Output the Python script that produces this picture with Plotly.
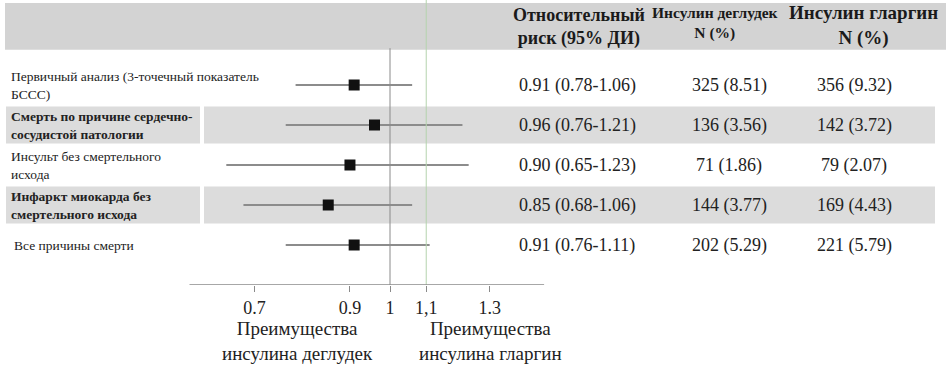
import plotly.graph_objects as go

# ---- data ----
outcomes = [
    "Первичный анализ (3-точечный показатель<br>БССС)",
    "<b>Смерть по причине сердечно-<br>сосудистой патологии</b>",
    "Инсульт без смертельного<br>исхода",
    "<b>Инфаркт миокарда без<br>смертельного исхода</b>",
    "Все причины смерти",
]
hr = [0.91, 0.96, 0.90, 0.85, 0.91]
ci_low = [0.78, 0.76, 0.65, 0.68, 0.76]
ci_high = [1.06, 1.21, 1.23, 1.06, 1.11]
n_degludec = [325, 136, 71, 144, 202]
pct_degludec = [8.51, 3.56, 1.86, 3.77, 5.29]
n_glargine = [356, 142, 79, 169, 221]
pct_glargine = [9.32, 3.72, 2.07, 4.43, 5.79]
tick_vals = [0.7, 0.9, 1, 1.1, 1.3]
tick_text = ["0.7", "0.9", "1", "1,1", "1.3"]
headers = ["Относительный<br>риск (95% ДИ)", "Инсулин деглудек<br>N (%)", "Инсулин гларгин<br>N (%)"]
favours = ["Преимущества<br>инсулина деглудек", "Преимущества<br>инсулина гларгин"]

W, H = 946, 365
FONT = "Liberation Serif, Times New Roman, serif"
rows = list(range(len(hr)))

fig = go.Figure()

# shading bands
shapes = []
shapes.append(dict(type="rect", xref="paper", yref="y", x0=5 / W, x1=1, y0=-2.05, y1=-0.88,
                   fillcolor="#d3d3d3", line_width=0, layer="below"))
for i in rows:
    if i % 2 == 1:
        shapes.append(dict(type="rect", xref="paper", yref="y", x0=6 / W, x1=200 / W,
                           y0=i - 0.46, y1=i + 0.46, fillcolor="#dcdcdc", line_width=0, layer="below"))
        shapes.append(dict(type="rect", xref="paper", yref="y", x0=204 / W, x1=935 / W,
                           y0=i - 0.46, y1=i + 0.46, fillcolor="#dcdcdc", line_width=0, layer="below"))

# reference lines
shapes.append(dict(type="line", xref="x", yref="y", x0=1.1, x1=1.1, y0=-2.125, y1=5.0,
                   line=dict(color="#b5d3ad", width=1)))
shapes.append(dict(type="line", xref="x", yref="y", x0=1, x1=1, y0=-0.92, y1=5.0,
                   line=dict(color="#8a8a8a", width=1)))
# axis line
shapes.append(dict(type="line", xref="x", yref="y", x0=0.59, x1=1.5, y0=5.0, y1=5.0,
                   line=dict(color="#8a8a8a", width=1.5)))

# CI lines
cx, cy = [], []
for i in rows:
    cx += [ci_low[i], ci_high[i], None]
    cy += [i, i, None]
fig.add_trace(go.Scatter(x=cx, y=cy, mode="lines", line=dict(color="#8c8c8c", width=2),
                         hoverinfo="skip", showlegend=False))
# point estimates
fig.add_trace(go.Scatter(x=hr, y=rows, mode="markers",
                         marker=dict(symbol="square", size=11, color="#111111"),
                         showlegend=False))

ann = []
# row labels
for i in rows:
    ann.append(dict(xref="paper", yref="y", x=9 / W if i != 4 else 12 / W, y=i, text=outcomes[i],
                    showarrow=False, xanchor="left", yanchor="middle", align="left",
                    font=dict(family=FONT, size=13.5, color="#222")))
    ann.append(dict(xref="paper", yref="y", x=577 / W, y=i,
                    text=f"{hr[i]:.2f} ({ci_low[i]:.2f}-{ci_high[i]:.2f})",
                    showarrow=False, xanchor="center", yanchor="middle",
                    font=dict(family=FONT, size=18, color="#222")))
    ann.append(dict(xref="paper", yref="y", x=729 / W, y=i,
                    text=f"{n_degludec[i]} ({pct_degludec[i]:.2f})",
                    showarrow=False, xanchor="center", yanchor="middle",
                    font=dict(family=FONT, size=18, color="#222")))
    ann.append(dict(xref="paper", yref="y", x=854 / W, y=i,
                    text=f"{n_glargine[i]} ({pct_glargine[i]:.2f})",
                    showarrow=False, xanchor="center", yanchor="middle",
                    font=dict(family=FONT, size=18, color="#222")))

# headers
hx = [579, 715, 863]
hs = [18, 15.5, 19]
hy = [-1.45, -1.55, -1.5]
for t, x, s, y in zip(headers, hx, hs, hy):
    ann.append(dict(xref="paper", yref="y", x=x / W, y=y, text=f"<b>{t}</b>",
                    showarrow=False, xanchor="center", yanchor="middle",
                    font=dict(family=FONT, size=s, color="#1a1a1a")))

# favours labels
for t, x in zip(favours, [297, 490]):
    ann.append(dict(xref="paper", yref="paper", x=x / W, y=(H - 80 - 341) / (H - 80), text=t,
                    showarrow=False, xanchor="center", yanchor="middle",
                    font=dict(family=FONT, size=19, color="#222")))

fig.update_layout(
    width=W, height=H,
    margin=dict(l=0, r=0, t=0, b=80),
    paper_bgcolor="white", plot_bgcolor="rgba(0,0,0,0)",
    shapes=shapes, annotations=ann,
    xaxis=dict(type="log", range=[-0.4457, 0.6354], showgrid=False, zeroline=False,
               showline=False, tickvals=tick_vals, ticktext=tick_text,
               ticks="outside", ticklen=6, tickcolor="#8a8a8a", tickwidth=1,
               tickfont=dict(family=FONT, size=18, color="#222")),
    yaxis=dict(range=[5.0, -2.125], showgrid=False, zeroline=False, showline=False,
               showticklabels=False, ticks=""),
    showlegend=False,
)

fig.write_html("out.html", config={"displayModeBar": False},
               post_script="document.body.style.margin='0';")
